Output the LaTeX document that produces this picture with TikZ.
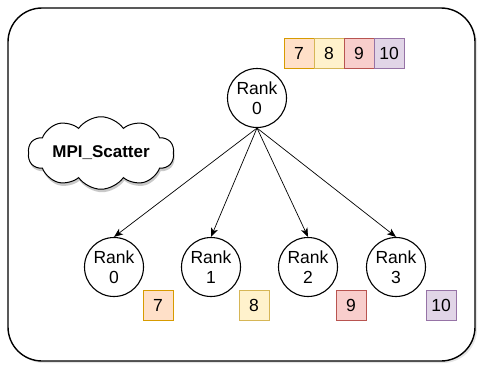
\documentclass[tikz,border=0pt]{standalone}
\usepackage{fontspec}
\setmainfont{Liberation Sans}
\usetikzlibrary{arrows.meta,shapes.symbols,shadows}

\definecolor{orfill}{HTML}{FFE0C8}
\definecolor{ordraw}{HTML}{D79B00}
\definecolor{yefill}{HTML}{FFF2CC}
\definecolor{yedraw}{HTML}{D6B656}
\definecolor{rdfill}{HTML}{F8CECC}
\definecolor{rddraw}{HTML}{B85450}
\definecolor{pufill}{HTML}{E1D5E7}
\definecolor{pudraw}{HTML}{9673A6}

\tikzset{
  rank/.style={circle, draw=black, line width=1.1pt, minimum size=59pt, inner sep=0pt,
    align=center, font=\fontsize{17.5}{20}\selectfont},
  cell/.style={rectangle, line width=1pt, minimum size=30pt, inner sep=0pt,
    font=\fontsize{17.5}{20}\selectfont},
  orcell/.style={cell, fill=orfill, draw=ordraw},
  yecell/.style={cell, fill=yefill, draw=yedraw},
  rdcell/.style={cell, fill=rdfill, draw=rddraw},
  pucell/.style={cell, fill=pufill, draw=pudraw},
  scatter/.style={-{Stealth[length=9pt,width=7pt,inset=2.5pt]}, line width=0.7pt},
  frame/.style={line width=1.4pt, rounded corners=34pt},
}

\begin{document}
\begin{tikzpicture}[x=1pt,y=-1pt]
\useasboundingbox (0,0) rectangle (478,364);

% outer frame with a soft shadow
\fill[black!10, rounded corners=34pt] (10,10) rectangle (477,363);
\draw[frame, fill=white] (8,8) rectangle (475,361);

% data held by the root
\node[orcell] (t7)  at (299,53) {7};
\node[yecell] (t8)  at (329,53) {8};
\node[rdcell] (t9)  at (359,53) {9};
\node[pucell] (t10) at (389,53) {10};

% root process
\node[rank] (root) at (257,98) {Rank\\0};

% label cloud
\node[cloud, cloud puffs=10, cloud puff arc=110, aspect=2.6, draw=black, line width=1pt,
  fill=white, minimum width=146pt, minimum height=56pt, inner sep=0pt,
  drop shadow={shadow xshift=1pt, shadow yshift=-3pt, fill=black!35, opacity=0.6},
  font=\bfseries\fontsize{17}{20}\selectfont] (mpi) at (101,153) {MPI\_Scatter};

% receiving processes
\node[rank] (r0) at (114,267) {Rank\\0};
\node[rank] (r1) at (211,267) {Rank\\1};
\node[rank] (r2) at (308,267) {Rank\\2};
\node[rank] (r3) at (396,267) {Rank\\3};

% scattered pieces
\node[orcell] (b7)  at (158,305) {7};
\node[yecell] (b8)  at (254,305) {8};
\node[rdcell] (b9)  at (351,305) {9};
\node[pucell] (b10) at (441,305) {10};

% distribution arrows
\foreach \r in {r0,r1,r2,r3}
  \draw[scatter] (root.south) -- (\r.north);
\end{tikzpicture}
\end{document}
